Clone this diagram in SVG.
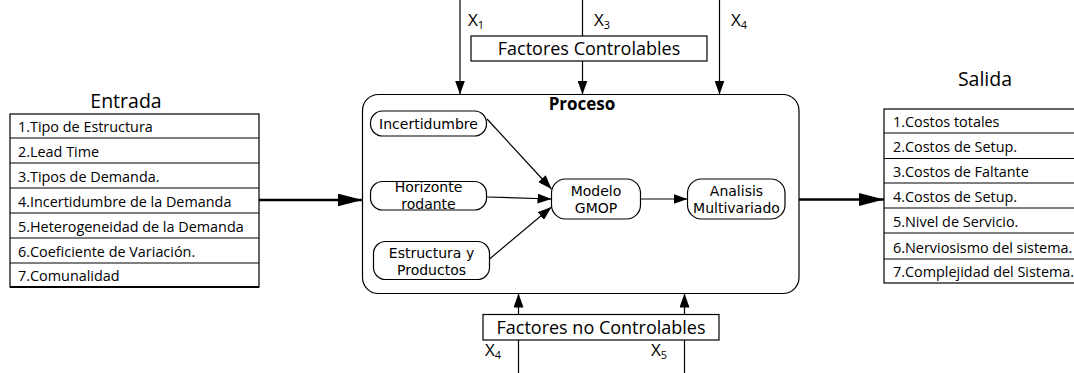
<svg xmlns="http://www.w3.org/2000/svg" width="1074" height="373" viewBox="0 0 1074 373">
  <defs>
    <style>
      text { font-family: "Open Sans", "Noto Sans", "Liberation Sans", sans-serif; fill: #000; }
      .row { font-size: 14.4px; }
      .title { font-size: 19.5px; text-anchor: middle; }
      .lbl { font-size: 18px; text-anchor: middle; }
      .node { font-family: "DejaVu Sans", "Liberation Sans", sans-serif; font-size: 14px; text-anchor: middle; }
      .var { font-size: 17px; }
      .sub { font-size: 11px; }
      .box { fill: #fff; stroke: #000; stroke-width: 1.2; }
      .rowline { stroke: #000; stroke-width: 1; }
      .inner { fill: #fff; stroke: #000; stroke-width: 1.2; }
      .wire { stroke: #000; stroke-width: 1.2; fill: none; }
      .thick { stroke: #000; stroke-width: 2.5; fill: none; }
    </style>
    <marker id="arrow" viewBox="0 0 10 10" refX="10" refY="5" markerWidth="14" markerHeight="10" markerUnits="userSpaceOnUse" orient="auto" preserveAspectRatio="none">
      <path d="M0,0 L10,5 L0,10 Z" fill="#000"/>
    </marker>
    <marker id="arrowBig" viewBox="0 0 10 10" refX="10" refY="5" markerWidth="25" markerHeight="13" markerUnits="userSpaceOnUse" orient="auto" preserveAspectRatio="none">
      <path d="M0,0 L10,5 L0,10 Z" fill="#000"/>
    </marker>
  </defs>

  <!-- Input table -->
  <g id="entrada">
    <text class="title" x="126" y="108">Entrada</text>
    <rect class="box" x="10" y="114" width="249" height="173"/>
    <line class="rowline" x1="10" y1="138" x2="259" y2="138"/>
    <line class="rowline" x1="10" y1="163" x2="259" y2="163"/>
    <line class="rowline" x1="10" y1="188" x2="259" y2="188"/>
    <line class="rowline" x1="10" y1="213" x2="259" y2="213"/>
    <line class="rowline" x1="10" y1="238" x2="259" y2="238"/>
    <line class="rowline" x1="10" y1="263" x2="259" y2="263"/>
    <line x1="10" y1="287" x2="259" y2="287" stroke="#000" stroke-width="2"/>
    <text class="row" x="18" y="131.5">1.Tipo de Estructura</text>
    <text class="row" x="18" y="156.5">2.Lead Time</text>
    <text class="row" x="18" y="181.5">3.Tipos de Demanda.</text>
    <text class="row" x="18" y="206.5">4.Incertidumbre de la Demanda</text>
    <text class="row" x="18" y="231.5">5.Heterogeneidad de la Demanda</text>
    <text class="row" x="18" y="256.5">6.Coeficiente de Variación.</text>
    <text class="row" x="18" y="280.5">7.Comunalidad</text>
  </g>

  <!-- Output table -->
  <g id="salida">
    <text class="title" x="985" y="86">Salida</text>
    <rect class="box" x="884" y="109" width="200" height="174"/>
    <line class="rowline" x1="884" y1="133" x2="1080" y2="133"/>
    <line class="rowline" x1="884" y1="158.5" x2="1080" y2="158.5"/>
    <line class="rowline" x1="884" y1="183" x2="1080" y2="183"/>
    <line class="rowline" x1="884" y1="208" x2="1080" y2="208"/>
    <line class="rowline" x1="884" y1="233" x2="1080" y2="233"/>
    <line class="rowline" x1="884" y1="259" x2="1080" y2="259"/>
    <text class="row" x="893" y="127">1.Costos totales</text>
    <text class="row" x="893" y="152">2.Costos de Setup.</text>
    <text class="row" x="893" y="177">3.Costos de Faltante</text>
    <text class="row" x="893" y="202">4.Costos de Setup.</text>
    <text class="row" x="893" y="227">5.Nivel de Servicio.</text>
    <text class="row" x="893" y="252.5">6.Nerviosismo del sistema.</text>
    <text class="row" x="893" y="277">7.Complejidad del Sistema.</text>
  </g>

  <!-- Process container -->
  <g id="proceso">
    <rect class="box" x="362.5" y="94.5" width="436.5" height="199" rx="16" ry="16"/>
    <text x="582" y="109.5" text-anchor="middle" font-size="17" font-weight="bold">Proceso</text>
  </g>

  <g id="incertidumbre">
    <rect class="inner" x="370.5" y="111" width="116" height="25" rx="12" ry="12"/>
    <text class="node" x="428.5" y="128.5">Incertidumbre</text>
  </g>
  <g id="horizonte">
    <rect class="inner" x="370.5" y="181.5" width="116" height="28.5" rx="12" ry="12"/>
    <text class="node" x="428.5" y="192"><tspan x="428.5">Horizonte</tspan><tspan x="428.5" dy="17">rodante</tspan></text>
  </g>
  <g id="estructura">
    <rect class="inner" x="373.5" y="241.5" width="116" height="38" rx="12" ry="12"/>
    <text class="node" x="431.5" y="257.5"><tspan x="431.5">Estructura y</tspan><tspan x="431.5" dy="17">Productos</tspan></text>
  </g>
  <g id="gmop">
    <rect class="inner" x="551.5" y="179" width="89" height="40" rx="14" ry="14"/>
    <text class="node" x="596" y="195.5"><tspan x="596">Modelo</tspan><tspan x="596" dy="17">GMOP</tspan></text>
  </g>
  <g id="multivariado">
    <rect class="inner" x="687.5" y="179" width="97.5" height="40" rx="14" ry="14"/>
    <text class="node" x="736.5" y="195.5"><tspan x="736.5">Analisis</tspan><tspan x="736.5" dy="17">Multivariado</tspan></text>
  </g>

  <!-- Controllable factors -->
  <g id="controlables">
    <rect class="box" x="471" y="36" width="236" height="25"/>
    <text class="lbl" x="589" y="55">Factores Controlables</text>
  </g>

  <!-- Uncontrollable factors -->
  <g id="no-controlables">
    <rect class="box" x="483" y="314.5" width="236" height="25.5"/>
    <text class="lbl" x="601" y="334">Factores no Controlables</text>
  </g>

  <!-- Variable labels -->
  <g id="variables">
    <text class="var" x="468" y="26">X<tspan class="sub" dy="3">1</tspan></text>
    <text class="var" x="594" y="26">X<tspan class="sub" dy="3">3</tspan></text>
    <text class="var" x="731" y="26">X<tspan class="sub" dy="3">4</tspan></text>
    <text class="var" x="485" y="356">X<tspan class="sub" dy="3">4</tspan></text>
    <text class="var" x="651" y="356">X<tspan class="sub" dy="3">5</tspan></text>
  </g>

  <!-- Connectors -->
  <g id="connectors">
    <line class="wire" x1="460" y1="0" x2="460" y2="94.5" marker-end="url(#arrow)"/>
    <line class="wire" x1="582.5" y1="0" x2="582.5" y2="36"/>
    <line class="wire" x1="582.5" y1="61" x2="582.5" y2="94.5" marker-end="url(#arrow)"/>
    <line class="wire" x1="719.5" y1="0" x2="719.5" y2="94.5" marker-end="url(#arrow)"/>
    <line class="wire" x1="518.5" y1="373" x2="518.5" y2="340"/>
    <line class="wire" x1="518.5" y1="314.5" x2="518.5" y2="293.5" marker-end="url(#arrow)"/>
    <line class="wire" x1="684.5" y1="373" x2="684.5" y2="340"/>
    <line class="wire" x1="684.5" y1="314.5" x2="684.5" y2="293.5" marker-end="url(#arrow)"/>
    <line class="wire" x1="487" y1="119" x2="551.5" y2="189" marker-end="url(#arrow)"/>
    <line class="wire" x1="487" y1="197" x2="551.5" y2="199" marker-end="url(#arrow)"/>
    <line class="wire" x1="489.5" y1="259" x2="551.5" y2="207" marker-end="url(#arrow)"/>
    <line class="wire" x1="640.5" y1="199" x2="687.5" y2="199" marker-end="url(#arrow)"/>
    <line class="thick" x1="259" y1="200" x2="362.5" y2="200" marker-end="url(#arrowBig)"/>
    <line class="thick" x1="799" y1="199.5" x2="884" y2="199.5" marker-end="url(#arrowBig)"/>
  </g>
</svg>
